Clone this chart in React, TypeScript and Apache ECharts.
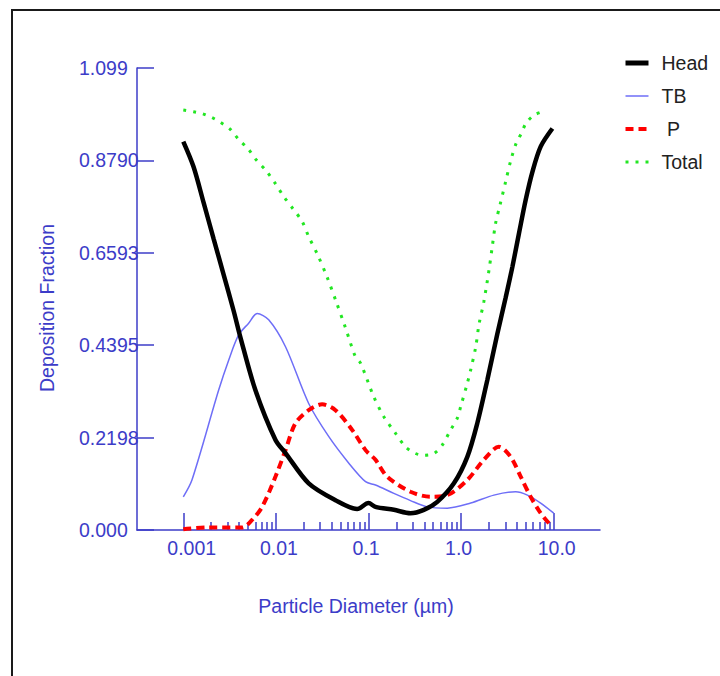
import React, { useEffect, useRef } from "react";
import * as echarts from "echarts";

// ---- data: [particle diameter (µm), deposition fraction] ----
const headData: [number, number][] = [
  [0.001, 0.924], [0.00129, 0.864], [0.00166, 0.778], [0.00213, 0.692], [0.00273, 0.607],
  [0.0035, 0.521], [0.00413, 0.459], [0.006, 0.333], [0.0099, 0.214], [0.0127, 0.183],
  [0.0226, 0.111], [0.044, 0.071], [0.0755, 0.05], [0.1, 0.064], [0.119, 0.055],
  [0.188, 0.048], [0.284, 0.04], [0.396, 0.048], [0.553, 0.067], [0.836, 0.111],
  [1.167, 0.174], [1.496, 0.254], [1.92, 0.357], [2.46, 0.466], [3.03, 0.553],
  [3.58, 0.626], [4.22, 0.706], [4.98, 0.785], [5.89, 0.852], [7.23, 0.912], [9.68, 0.955],
];

const tbData: [number, number][] = [
  [0.001, 0.079], [0.00124, 0.119], [0.00241, 0.333], [0.00309, 0.404], [0.00396, 0.464],
  [0.00508, 0.492], [0.00627, 0.515], [0.00836, 0.5], [0.0127, 0.436], [0.0226, 0.301],
  [0.0373, 0.222], [0.0613, 0.159], [0.0929, 0.115], [0.119, 0.107], [0.188, 0.087],
  [0.284, 0.07], [0.431, 0.055], [0.71, 0.052], [1.27, 0.064], [2.26, 0.083],
  [3.88, 0.091], [5.2, 0.083], [7.23, 0.064], [10, 0.04],
];

const pData: [number, number][] = [
  [0.001, 0.002], [0.00188, 0.006], [0.00431, 0.006], [0.00553, 0.024], [0.0071, 0.055],
  [0.0099, 0.127], [0.0127, 0.19], [0.01626, 0.254], [0.0226, 0.285], [0.0316, 0.299],
  [0.044, 0.285], [0.0667, 0.238], [0.0929, 0.19], [0.119, 0.167], [0.159, 0.127],
  [0.284, 0.091], [0.468, 0.079], [0.71, 0.083], [1.167, 0.119], [1.76, 0.167],
  [2.56, 0.198], [3.43, 0.174], [4.4, 0.127], [5.64, 0.079], [7.23, 0.04], [8.89, 0.016],
];

const totalData: [number, number][] = [
  [0.001, 0.999], [0.00129, 0.995], [0.00162, 0.99], [0.00204, 0.981], [0.00251, 0.97],
  [0.00322, 0.953], [0.00396, 0.929], [0.005, 0.907], [0.00615, 0.88], [0.00789, 0.854],
  [0.0098, 0.825], [0.0121, 0.794], [0.0153, 0.764], [0.0192, 0.734], [0.0226, 0.698],
  [0.0286, 0.652], [0.0358, 0.601], [0.0448, 0.543], [0.0564, 0.481], [0.0723, 0.412],
  [0.082, 0.397], [0.114, 0.317], [0.146, 0.27], [0.196, 0.23], [0.251, 0.198],
  [0.322, 0.182], [0.396, 0.178], [0.508, 0.182], [0.626, 0.202], [0.77, 0.238],
  [0.91, 0.266], [0.988, 0.293], [1.167, 0.349], [1.27, 0.381], [1.44, 0.436],
  [1.56, 0.489], [1.76, 0.543], [2.0, 0.618], [2.17, 0.674], [2.36, 0.73],
  [2.63, 0.773], [3.03, 0.829], [3.43, 0.878], [3.95, 0.921], [4.51, 0.945],
  [4.98, 0.966], [6.12, 0.987], [8.2, 0.997],
];

const seriesNames = ["Head", "TB", "P", "Total"];

// ---- ticks ----
const xTickValues = [0.001, 0.01, 0.1, 1, 10];
const xTickLabels = ["0.001", "0.01", "0.1", "1.0", "10.0"];
const xMinorDecades = [0.001, 0.01, 0.1, 1];
const xMinorMultipliers = [2, 3, 4, 5, 6, 7, 8, 9];
const yTickValues = [0, 0.2198, 0.4395, 0.6593, 0.879, 1.099];
const yTickLabels = ["0.000", "0.2198", "0.4395", "0.6593", "0.8790", "1.099"];

const X_MIN = Math.pow(10, -3.5);
const X_MAX = Math.pow(10, 1.5);
const Y_MAX = 1.099;

const AXIS = "#3c3cc8";
const FONT = '"Liberation Sans", Arial, sans-serif';
const FS = 19.5;

const xMinorTicks = xMinorDecades.flatMap((d) =>
  xMinorMultipliers.map((m) => parseFloat((d * m).toPrecision(6)))
);

function nearestLabel(v: number, values: number[], labels: string[], log: boolean) {
  let best = 0;
  let bestD = Infinity;
  values.forEach((t, i) => {
    const d = log ? Math.abs(Math.log10(t) - Math.log10(v)) : Math.abs(t - v);
    if (d < bestD) {
      bestD = d;
      best = i;
    }
  });
  return labels[best];
}

export default function App() {
  const ref = useRef<HTMLDivElement>(null);
  useEffect(() => {
    if (!ref.current) return;
    const chart = echarts.init(ref.current, undefined, { renderer: "svg" });
    const legendWidths: Record<string, number> = { Head: 5, TB: 1.5, P: 4, Total: 3 };
    const option: any = {
      animation: false,
      backgroundColor: "#ffffff",
      grid: { left: 137, top: 68, right: 120, bottom: 146 },
      legend: {
        orient: "vertical",
        left: 623,
        top: 53,
        padding: 0,
        itemWidth: 23,
        itemHeight: 14,
        itemGap: 13,
        selectedMode: false,
        data: seriesNames.map((n) => ({ name: n, lineStyle: { width: legendWidths[n] } })),
        itemStyle: { color: "transparent", borderWidth: 0, opacity: 0 },
        formatter: (n: string) => (n === "P" ? " P" : n),
        textStyle: {
          fontSize: FS,
          color: "#222",
          fontFamily: FONT,
          lineHeight: 20,
          padding: [0, 0, 0, 8],
        },
      },
      xAxis: [
        {
          type: "log",
          logBase: 10,
          min: X_MIN,
          max: X_MAX,
          position: "bottom",
          axisLine: { show: true, onZero: false, lineStyle: { color: AXIS, width: 1.5 } },
          axisTick: {
            show: true,
            inside: true,
            length: 17,
            customValues: xTickValues,
            lineStyle: { color: AXIS, width: 1.5 },
          },
          axisLabel: {
            show: true,
            customValues: xTickValues,
            margin: 8,
            color: AXIS,
            fontSize: FS,
            fontFamily: FONT,
            align: "left",
            padding: [0, 0, 0, -16],
            formatter: (v: number) => nearestLabel(v, xTickValues, xTickLabels, true),
          },
          splitLine: { show: false },
          minorTick: { show: false },
          minorSplitLine: { show: false },
        },
        {
          type: "log",
          logBase: 10,
          min: X_MIN,
          max: X_MAX,
          position: "bottom",
          axisLine: { show: false, onZero: false },
          axisTick: {
            show: true,
            inside: true,
            length: 8,
            customValues: xMinorTicks,
            lineStyle: { color: AXIS, width: 1.5 },
          },
          axisLabel: { show: false },
          splitLine: { show: false },
        },
      ],
      yAxis: {
        type: "value",
        min: 0,
        max: Y_MAX,
        axisLine: { show: true, onZero: false, lineStyle: { color: AXIS, width: 1.5 } },
        axisTick: {
          show: true,
          inside: true,
          length: 17,
          customValues: yTickValues,
          lineStyle: { color: AXIS, width: 1.5 },
        },
        axisLabel: {
          show: true,
          customValues: yTickValues,
          margin: 58,
          align: "left",
          color: AXIS,
          fontSize: FS,
          fontFamily: FONT,
          formatter: (v: number) => nearestLabel(v, yTickValues, yTickLabels, false),
        },
        splitLine: { show: false },
      },
      series: [
        {
          name: "Head",
          type: "line",
          data: headData,
          symbol: "none",
          smooth: 0.3,
          lineStyle: { color: "#000000", width: 4.5 },
          itemStyle: { color: "#000000" },
          z: 5,
        },
        {
          name: "TB",
          type: "line",
          data: tbData,
          symbol: "none",
          smooth: 0.3,
          lineStyle: { color: "#6e6ef7", width: 1.5 },
          itemStyle: { color: "#6e6ef7" },
          z: 3,
        },
        {
          name: "P",
          type: "line",
          data: pData,
          symbol: "none",
          smooth: 0.3,
          lineStyle: { color: "#ff0000", width: 4, type: [8, 5] },
          itemStyle: { color: "#ff0000" },
          z: 4,
        },
        {
          name: "Total",
          type: "line",
          data: totalData,
          symbol: "none",
          smooth: 0.3,
          lineStyle: { color: "#22e622", width: 3, type: [3, 7] },
          itemStyle: { color: "#22e622" },
          z: 2,
        },
      ],
      graphic: [
        {
          type: "rect",
          silent: true,
          z: -10,
          shape: { x: 12, y: 10, width: 800, height: 800 },
          style: { fill: "none", stroke: "#1a1a1a", lineWidth: 2 },
        },
        {
          type: "text",
          silent: true,
          x: 47,
          y: 308,
          rotation: Math.PI / 2,
          style: {
            text: "Deposition Fraction",
            fontSize: FS,
            fontFamily: FONT,
            fill: AXIS,
            align: "center",
            verticalAlign: "middle",
          },
        },
        {
          type: "text",
          silent: true,
          x: 356,
          y: 606,
          style: {
            text: "Particle Diameter (µm)",
            fontSize: FS,
            fontFamily: FONT,
            fill: AXIS,
            align: "center",
            verticalAlign: "middle",
          },
        },
      ],
    };
    chart.setOption(option);
    return () => chart.dispose();
  }, []);
  return (
    <div
      ref={ref}
      style={{ position: "absolute", left: 0, top: 0, width: 720, height: 676, background: "#fff" }}
    />
  );
}
